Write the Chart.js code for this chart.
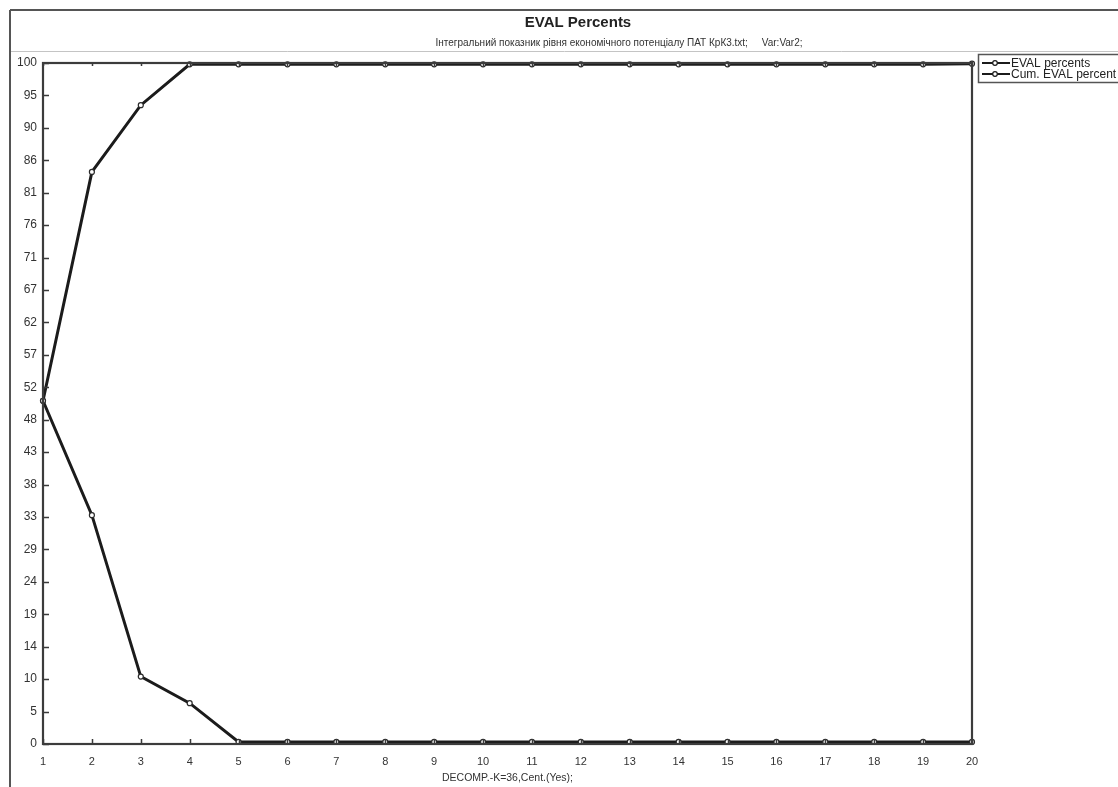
<!DOCTYPE html>
<html>
<head>
<meta charset="utf-8">
<script src="https://cdn.jsdelivr.net/npm/chart.js@4.4.0/dist/chart.umd.min.js"></script>
<style>
  html, body { margin: 0; padding: 0; background: #fff; overflow: hidden; }
  #wrap { width: 1118px; height: 787px; position: relative; }
</style>
</head>
<body>
<div id="wrap"><canvas id="evalChart"></canvas></div>
<script>
// Composantes (axe X)
const components = [1, 2, 3, 4, 5, 6, 7, 8, 9, 10, 11, 12, 13, 14, 15, 16, 17, 18, 19, 20];

// Valeurs
const evalPercents = [50.4, 33.6, 9.9, 6.0, 0.3, 0.3, 0.3, 0.3, 0.3, 0.3, 0.3, 0.3, 0.3, 0.3, 0.3, 0.3, 0.3, 0.3, 0.3, 0.3];
const cumEvalPercents = [50.4, 84.0, 93.8, 99.8, 99.8, 99.8, 99.8, 99.8, 99.8, 99.8, 99.8, 99.8, 99.8, 99.8, 99.8, 99.8, 99.8, 99.8, 99.8, 99.9];

// Graduations de l'axe Y (pas de 100/21)
const yTickValues = [0, 4.76, 9.52, 14.29, 19.05, 23.81, 28.57, 33.33, 38.10, 42.86, 47.62, 52.38, 57.14, 61.90, 66.67, 71.43, 76.19, 80.95, 85.71, 90.48, 95.24, 100];
const yTickLabels = ['0', '5', '10', '14', '19', '24', '29', '33', '38', '43', '48', '52', '57', '62', '67', '71', '76', '81', '86', '90', '95', '100'];

const seriesNames = ['EVAL percents', 'Cum. EVAL percent'];
const chartTitle = 'EVAL Percents';
const chartSubtitle = 'Інтегральний показник рівня економічного потенціалу ПАТ КрК3.txt;     Var:Var2;';
const xAxisTitle = 'DECOMP.-K=36,Cent.(Yes);';

const FONT = '"Liberation Sans", Arial, sans-serif';

function toPoints(values) {
    return values.map((v, i) => ({ x: components[i], y: v }));
}

function lineDataset(label, values) {
    return {
        label: label,
        data: toPoints(values),
        borderColor: '#1b1b1b',
        backgroundColor: '#ffffff',
        borderWidth: 3,
        tension: 0,
        pointStyle: 'circle',
        pointRadius: 2.5,
        pointBorderWidth: 1.2,
        pointBorderColor: '#2a2a2a',
        pointBackgroundColor: '#ffffff',
        clip: false
    };
}

// Cadre, titres, graduations internes et légende
const framePlugin = {
    id: 'frame',
    beforeDraw(chart) {
        const c = chart.ctx;
        c.save();
        c.strokeStyle = '#555';
        c.lineWidth = 2;
        c.beginPath();
        c.moveTo(10, 10); c.lineTo(1118, 10);
        c.moveTo(10, 10); c.lineTo(10, 787);
        c.stroke();
        c.strokeStyle = '#c4c4c4';
        c.lineWidth = 1;
        c.beginPath();
        c.moveTo(11, 51.5); c.lineTo(1118, 51.5);
        c.stroke();

        c.fillStyle = '#222';
        c.textAlign = 'center';
        c.textBaseline = 'middle';
        c.font = 'bold 15px ' + FONT;
        c.fillText(chartTitle, 578, 23);
        c.fillStyle = '#333';
        c.font = '10px ' + FONT;
        c.fillText(chartSubtitle, 619, 43);
        c.restore();
    },
    afterDraw(chart) {
        const c = chart.ctx;
        const a = chart.chartArea;
        const xs = chart.scales.x;
        const ys = chart.scales.y;
        c.save();
        c.strokeStyle = '#3a3a3a';
        c.lineWidth = 1.5;
        c.beginPath();
        yTickValues.forEach(v => {
            const py = Math.round(ys.getPixelForValue(v)) + 0.5;
            c.moveTo(a.left, py); c.lineTo(a.left + 6, py);
        });
        components.forEach(v => {
            const px = Math.round(xs.getPixelForValue(v)) + 0.5;
            c.moveTo(px, a.bottom); c.lineTo(px, a.bottom - 5);
            c.moveTo(px, a.top); c.lineTo(px, a.top + 3);
        });
        c.stroke();

        c.strokeStyle = '#3c3c3c';
        c.lineWidth = 2.2;
        c.strokeRect(a.left, a.top, a.right - a.left, a.bottom - a.top);

        // Légende
        const lx = 978, ly = 54;
        c.strokeStyle = '#555';
        c.lineWidth = 1.5;
        c.strokeRect(lx + 0.5, ly + 0.5, 300, 28);
        c.font = '12px ' + FONT;
        c.textAlign = 'left';
        c.textBaseline = 'middle';
        chart.data.datasets.forEach((ds, i) => {
            const y = ly + 9 + i * 11;
            c.strokeStyle = ds.borderColor;
            c.lineWidth = 2;
            c.beginPath();
            c.moveTo(lx + 4, y); c.lineTo(lx + 32, y);
            c.stroke();
            c.beginPath();
            c.arc(lx + 17, y, 2.3, 0, Math.PI * 2);
            c.fillStyle = '#fff';
            c.fill();
            c.lineWidth = 1.2;
            c.stroke();
            c.fillStyle = '#222';
            c.fillText(ds.label, lx + 33, y + 0.5);
        });
        c.restore();
    }
};

new Chart(document.getElementById('evalChart'), {
    type: 'line',
    data: {
        datasets: [
            lineDataset(seriesNames[0], evalPercents),
            lineDataset(seriesNames[1], cumEvalPercents)
        ]
    },
    options: {
        responsive: true,
        maintainAspectRatio: false,
        animation: false,
        layout: {
            padding: { left: 10, top: 63, right: 146, bottom: 0 }
        },
        plugins: {
            legend: { display: false },
            title: { display: false },
            tooltip: { enabled: false }
        },
        scales: {
            x: {
                type: 'linear',
                min: 1,
                max: 20,
                afterFit: scale => { scale.height = 43; },
                afterBuildTicks: scale => { scale.ticks = components.map(v => ({ value: v })); },
                ticks: {
                    padding: 11,
                    color: '#333',
                    font: { family: FONT, size: 11 },
                    maxRotation: 0,
                    autoSkip: false
                },
                grid: { display: false, drawTicks: false },
                border: { display: false },
                title: {
                    display: true,
                    text: xAxisTitle,
                    color: '#333',
                    font: { family: FONT, size: 10.5 },
                    padding: { top: 0, bottom: 3 }
                }
            },
            y: {
                min: 0,
                max: 100,
                afterFit: scale => { scale.width = 33; },
                afterBuildTicks: scale => { scale.ticks = yTickValues.map(v => ({ value: v })); },
                ticks: {
                    padding: 6,
                    color: '#333',
                    font: { family: FONT, size: 12 },
                    autoSkip: false,
                    callback: (value, index) => yTickLabels[index]
                },
                grid: { display: false, drawTicks: false },
                border: { display: false }
            }
        }
    },
    plugins: [framePlugin]
});
</script>
</body>
</html>
